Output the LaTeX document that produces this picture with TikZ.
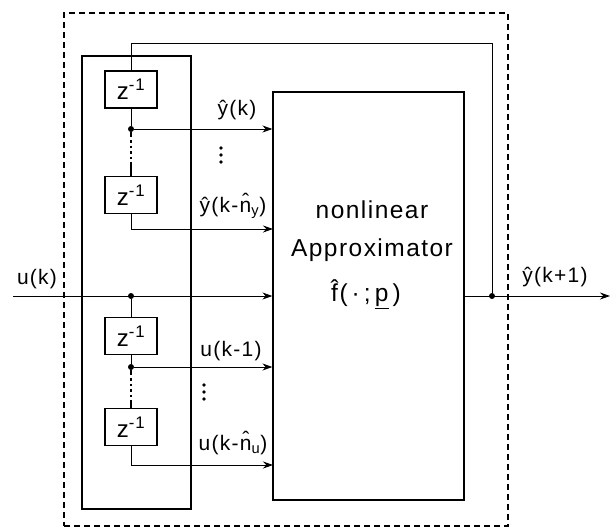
\documentclass[tikz,border=0pt]{standalone}
\usepackage{fontspec}
\setmainfont[LetterSpace=6]{Liberation Sans}
\usepackage{tikz}
\usetikzlibrary{arrows.meta}
\tikzset{
    blk/.style={draw, line width=1.2pt, minimum width=52pt, minimum height=37pt, inner sep=0pt, font=\fontsize{24}{28}\selectfont},
    frm/.style={draw, line width=1.2pt, inner sep=0pt},
    dot/.style={circle, fill, inner sep=0pt, minimum size=6pt},
    lbl/.style={inner sep=0pt},
    big/.style={inner sep=0pt, font=\fontsize{24.5}{28}\selectfont},
    vd/.style={inner sep=0pt, minimum width=4pt, minimum height=20pt,
        path picture={
            \fill ([yshift=7pt]path picture bounding box.center) circle (1.8pt);
            \fill (path picture bounding box.center) circle (1.8pt);
            \fill ([yshift=-7pt]path picture bounding box.center) circle (1.8pt);
        }},
    vdt/.style={dash pattern=on 5pt off 3pt on 2.5pt off 3pt on 2.5pt off 3pt on 2.5pt off 3pt on 2.5pt off 3pt on 20pt, line width=1.4pt},
    bd/.style={>={Stealth[length=10pt,width=7pt]}, line width=0.9pt, font=\fontsize{21}{25}\selectfont}
}

\begin{document}
\begin{tikzpicture}[bd, x=1pt, y=-1pt]
    \useasboundingbox (0,0) rectangle (611,528);
    \node[frm, dash pattern=on 6pt off 4pt, minimum width=444pt, minimum height=513pt] (sys) at (286,269.5) {};
    \node[frm, minimum width=109pt, minimum height=453pt] (dly) at (136.5,282.5) {};
    \node[frm, minimum width=191pt, minimum height=408pt] (apx) at (368.5,296) {};
    \node[big] (nl) at (372,210) {nonlinear};
    \node[big] (ap) at (372,250) {Approximator};
    \node[big] (fh) at (366,294) {\^{f}(\,·\,;\,\underline{p}\,)};

    \node[blk] (zy1) at (131,89.5) {z\textsuperscript{-1}};
    \node[blk] (zy2) at (131,195) {z\textsuperscript{-1}};
    \node[blk] (zu1) at (131,336) {z\textsuperscript{-1}};
    \node[blk] (zu2) at (131,427) {z\textsuperscript{-1}};

    \node[dot] (dy) at (131,129) {};
    \node[dot] (du) at (131,296) {};
    \node[dot] (du1) at (131,367) {};
    \node[dot] (dout) at (492,296) {};

    \coordinate (fb) at (131,43);
    \coordinate (uin) at (13,296);
    \coordinate (yout) at (610,296);
    \coordinate (iy2) at (273,229);
    \coordinate (iu2) at (273,465);

    % labels
    \node[lbl] (ly1) at (237,110) {\^{y}(k)};
    \node[lbl] (ly2) at (233,206) {\^{y}(k-\^{n}\textsubscript{y})};
    \node[lbl] (lu) at (37,279) {u(k)};
    \node[lbl] (lu1) at (231,351) {u(k-1)};
    \node[lbl] (lu2) at (233,443) {u(k-\^{n}\textsubscript{u})};
    \node[lbl] (lout) at (555,277) {\^{y}(k+1)};
    \node[vd] (vy) at (221,155) {};
    \node[vd] (vu) at (204,392) {};

    % connections
    \draw (dout) |- (fb) -- (zy1);
    \draw (zy1) -- (dy);
    \draw[->] (dy) -- (dy -| apx.west);
    \draw[vdt] (dy) -- (zy2);
    \draw[->] (zy2) |- (iy2);
    \draw[->] (uin) -- (apx.west);
    \draw (du) -- (zu1);
    \draw (zu1) -- (du1);
    \draw[->] (du1) -- (du1 -| apx.west);
    \draw[vdt] (du1) -- (zu2);
    \draw[->] (zu2) |- (iu2);
    \draw[->] (apx) -- (yout);
\end{tikzpicture}
\end{document}
